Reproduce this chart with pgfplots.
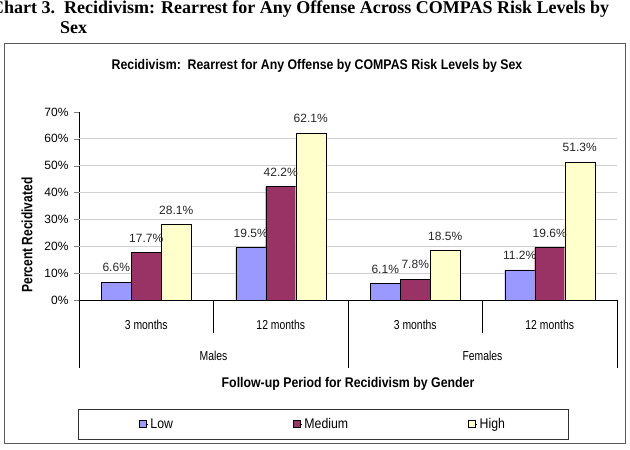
\documentclass[border=0pt]{standalone}
\usepackage{fontspec}
\usepackage{pgfplots}
\pgfplotsset{compat=1.18}
\setmainfont{Liberation Sans}
\newfontfamily\cond[FakeStretch=0.8]{Liberation Sans}
\newfontfamily\condB[FakeStretch=0.88]{Liberation Sans}
\newfontfamily\timesb{Liberation Serif}
\definecolor{lowc}{HTML}{9999FF}
\definecolor{medc}{HTML}{993366}
\definecolor{highc}{HTML}{FFFFCC}
\definecolor{gridc}{HTML}{D0D0D0}
\pgfplotsset{sqlegend/.style={legend image code/.code={\path (0pt,0pt) -- (9pt,0pt);\draw[##1,draw=black] (0pt,-3.5pt) rectangle (7pt,3.5pt);}}}
\begin{document}
\begin{tikzpicture}[x=1pt,y=1pt]
\useasboundingbox (0,0) rectangle (630,-450);
\node[anchor=base west, inner sep=0, font=\timesb\bfseries\fontsize{18}{22}\selectfont] at (-9,-13.5) {Chart 3.\ \ Recidivism: Rearrest for Any Offense Across COMPAS Risk Levels by};
\node[anchor=base west, inner sep=0, font=\timesb\bfseries\fontsize{18}{22}\selectfont] at (60,-33.5) {Sex};
\draw[black!65] (4,-43) rectangle (625,-443);
\node[font=\condB\bfseries\fontsize{14}{16}\selectfont] at (317,-66) {Recidivism:\ \ Rearrest for Any Offense by COMPAS Risk Levels by Sex};
\node[rotate=90, font=\cond\bfseries\fontsize{15}{17}\selectfont] at (27,-235) {Percent Recidivated};
\begin{axis}[
  at={(79pt,-300pt)}, anchor=south west,
  scale only axis, width=538pt, height=188pt,
  xmin=-0.5, xmax=3.5, ymin=0, ymax=70,
  ybar=0pt, bar width=30pt,
  axis x line*=bottom, axis y line*=left,
  clip=false,
  /pgf/number format/assume math mode=true,
  ytick={0,10,...,70},
  yticklabel={\pgfmathprintnumber{\tick}\%},
  y tick label style={font=\fontsize{12}{14}\selectfont, xshift=-2pt},
  tick align=outside, major tick length=5pt,
  xtick={0,1,2,3},
  xticklabels={3 months,12 months,3 months,12 months},
  x tick style={draw=none},
  x tick label style={font=\cond\fontsize{13}{15}\selectfont, yshift=-12pt},
  extra y ticks={10,20,...,60},
  extra y tick labels={},
  extra y tick style={grid=major, major grid style={gridc, line width=0.8pt}, major tick length=0pt},
  nodes near coords={\pgfmathprintnumber[fixed,fixed zerofill,precision=1]{\pgfplotspointmeta}\%},
  every node near coord/.append style={font=\fontsize{12}{14}\selectfont, inner sep=0pt, anchor=south, yshift=10pt, text=black!85},
  legend columns=3,
  legend style={at={(0.4535,-0.6596)}, anchor=center, draw=black!80, font=\condB\fontsize{14}{16}\selectfont,
    inner xsep=61pt, inner ysep=7pt, /tikz/every even column/.append style={column sep=118pt}},
]
\addplot[fill=lowc, draw=black, sqlegend] coordinates {(0,6.6) (1,19.5) (2,6.1) (3,11.2)};
\addplot[fill=medc, draw=black, sqlegend] coordinates {(0,17.7) (1,42.2) (2,7.8) (3,19.6)};
\addplot[fill=highc, draw=black, sqlegend] coordinates {(0,28.1) (1,62.1) (2,18.5) (3,51.3)};
\legend{Low,Medium,High}
\draw[black] (axis cs:-0.5,0) -- ++(0pt,-68pt);
\draw[black] (axis cs:0.5,0) -- ++(0pt,-33pt);
\draw[black] (axis cs:1.5,0) -- ++(0pt,-68pt);
\draw[black] (axis cs:2.5,0) -- ++(0pt,-33pt);
\draw[black] (axis cs:3.5,0) -- ++(0pt,-68pt);
\node[font=\cond\fontsize{13}{15}\selectfont] at ([yshift=-56pt]axis cs:0.5,0) {Males};
\node[font=\cond\fontsize{13}{15}\selectfont] at ([yshift=-56pt]axis cs:2.5,0) {Females};
\node[font=\condB\bfseries\fontsize{14}{16}\selectfont] at ([yshift=-84pt]axis cs:1.5,0) {Follow-up Period for Recidivism by Gender};
\end{axis}
\end{tikzpicture}
\end{document}
